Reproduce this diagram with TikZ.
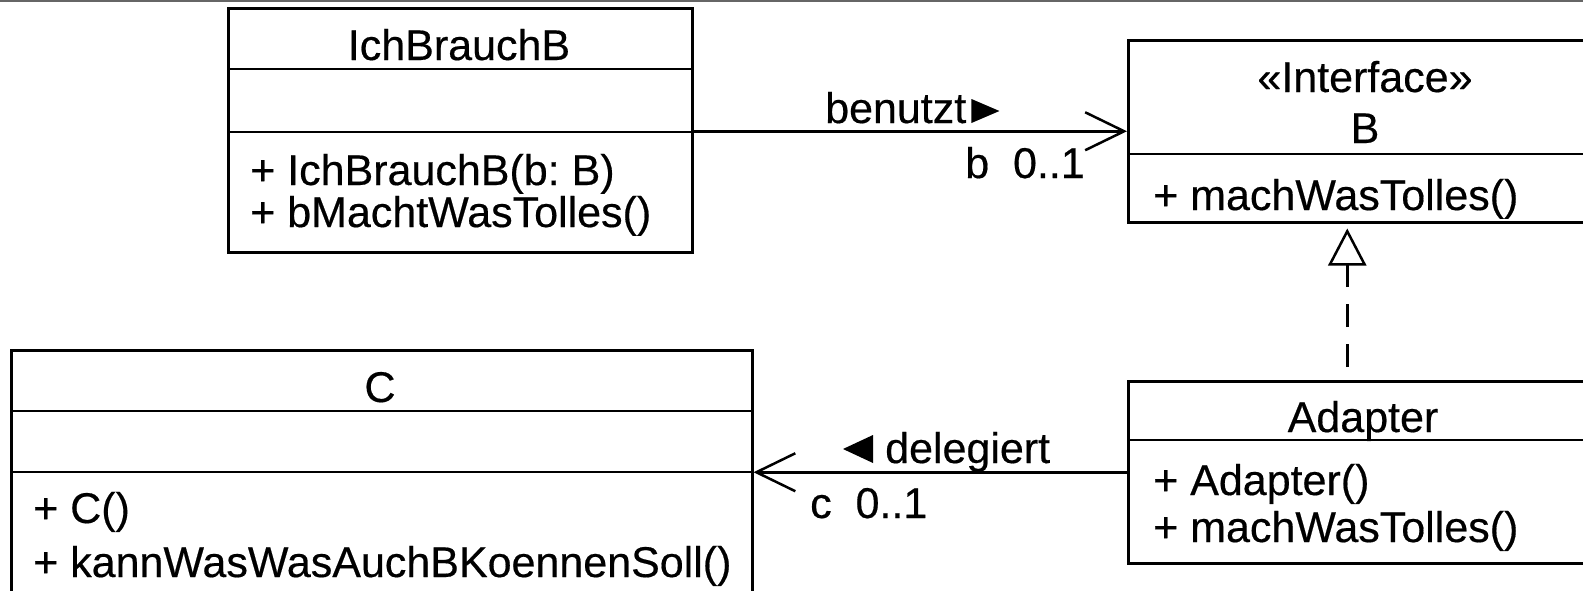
\documentclass[tikz,border=0pt]{standalone}
\usepackage{fontspec}
\setmainfont{Liberation Sans}[FakeBold=0.4]
\usetikzlibrary{arrows.meta}
\frenchspacing
\begin{document}
\begin{tikzpicture}[x=1pt,y=-1pt,
  umlbox/.style={draw, line width=2.5pt, rectangle, inner sep=0pt, anchor=north west},
  sepline/.style={line width=2.5pt},
  lbl/.style={inner sep=0pt, font=\fontsize{43}{50}\selectfont},
  conn/.style={line width=2.5pt},
  openhead/.style={-{Straight Barb[length=39pt, width=38pt]}},
  realize/.style={dash pattern=on 23pt off 17pt, dash phase=27pt,
    -{Triangle[open, length=37pt, width=38pt, fill=white]}}]
\clip (0,0) rectangle (1583,590);
\fill[white] (0,0) rectangle (1583,590);
\draw[line width=2.5pt, black!60] (0,1) -- (1583,1);

% IchBrauchB
\node[umlbox, minimum width=464pt, minimum height=244pt] (ich) at (227,7) {};
\draw[sepline] (227,69) -- (694,69);
\draw[sepline] (227,132) -- (694,132);
\node[lbl, anchor=base] (ichT) at (459,60) {IchBrauchB};
\node[lbl, anchor=base west] (ichM1) at (250,185) {+ IchBrauchB(b: B)};
\node[lbl, anchor=base west] (ichM2) at (250,227) {+ bMachtWasTolles()};

% Interface B
\node[umlbox, minimum width=476pt, minimum height=182pt] (iface) at (1127,39) {};
\draw[sepline] (1127,154) -- (1603,154);
\node[lbl, anchor=base] (ifS) at (1365,92) {«Interface»};
\node[lbl, anchor=base] (ifT) at (1365,143) {B};
\node[lbl, anchor=base west] (ifM) at (1153,210) {+ machWasTolles()};

% Adapter
\node[umlbox, minimum width=476pt, minimum height=182pt] (adapter) at (1127,380) {};
\draw[sepline] (1127,440) -- (1603,440);
\node[lbl, anchor=base] (adT) at (1363,432) {Adapter};
\node[lbl, anchor=base west] (adM1) at (1153,495) {+ Adapter()};
\node[lbl, anchor=base west] (adM2) at (1153,542) {+ machWasTolles()};

% C
\node[umlbox, minimum width=741pt, minimum height=262pt] (c) at (10,349) {};
\draw[sepline] (10,411) -- (754,411);
\draw[sepline] (10,472) -- (754,472);
\node[lbl, anchor=base] (cT) at (380,402) {C};
\node[lbl, anchor=base west] (cM1) at (33,523) {+ C()};
\node[lbl, anchor=base west] (cM2) at (33,577) {+ kannWasWasAuchBKoennenSoll()};

% connectors
\draw[conn, openhead] (ich.east |- iface.west) -- (iface.west);
\draw[conn, openhead] (adapter.west) -- (adapter.west -| c.east);
\draw[conn, realize] ([xshift=-19pt]adapter.north) -- ([xshift=-19pt, yshift=-5pt]iface.south);

% labels
\node[lbl, anchor=base west] (ben) at (825,123) {benutzt};
\fill ([xshift=5pt]ben.base east) -- ++(0,-24) -- ++(28,12) -- cycle;
\node[lbl, anchor=base east] (bmult) at (1085,178) {b\ \ 0..1};
\node[lbl, anchor=base west] (del) at (885,463) {delegiert};
\fill ([xshift=-12pt]del.base west) -- ++(0,-28) -- ++(-30,14) -- cycle;
\node[lbl, anchor=base west] (cmult) at (810,518) {c\ \ 0..1};
\end{tikzpicture}
\end{document}
